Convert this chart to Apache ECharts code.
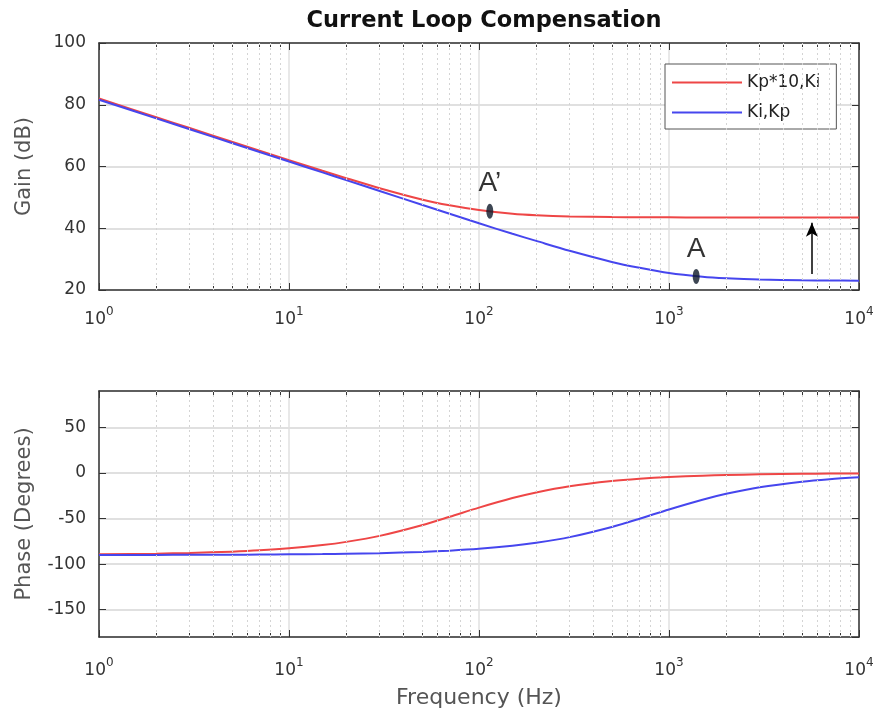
<!DOCTYPE html>
<html><head><meta charset="utf-8">
<script src="https://cdn.jsdelivr.net/npm/echarts@6/dist/echarts.min.js"></script>
<style>html,body{margin:0;padding:0;background:#fff}#c{width:878px;height:722px}</style>
</head><body><div id="c"></div>
<script>
// ---- data ----
const freq = [1,2,3,5,7,10,15,20,30,50,70,100,150,200,300,500,700,1000,1500,2000,3000,5000,7000,10000];
const gainRed  = [82.0,75.99,72.46,68.03,65.13,62.06,58.62,56.22,52.98,49.33,47.43,45.89,44.69,44.21,43.83,43.62,43.56,43.53,43.51,43.5,43.5,43.5,43.5,43.5];
const gainBlue = [81.6,75.6,72.05,67.6,64.7,61.6,58.1,55.6,52.05,47.6,44.7,41.6,38.2,35.9,32.7,29.1,27.2,25.5,24.3,23.8,23.37,23.14,23.07,23.03];
const phaseRed  = [-89.3,-88.5,-87.8,-86.3,-84.9,-82.7,-79.1,-75.6,-69.0,-57.3,-48.1,-38.0,-27.5,-21.3,-14.6,-8.9,-6.4,-4.5,-3.0,-2.2,-1.5,-0.9,-0.6,-0.45];
const phaseBlue = [-89.9,-89.9,-89.8,-89.7,-89.5,-89.3,-89.0,-88.6,-88.0,-86.6,-85.2,-83.2,-79.9,-76.6,-70.4,-59.2,-50.2,-40.0,-29.3,-22.8,-15.6,-9.5,-6.8,-4.8];
const seriesNames = ['Kp*10,Ki', 'Ki,Kp'];
const markerFreq = [114, 1390];
const markerGain = [45.5, 24.4];
const markerLabels = ['A\u2019', 'A'];
const arrowFreq = 5650;
const arrowFrom = 25.2;
const arrowTo = 41.8;
const minorFreq = [2,3,4,5,6,7,8,9,20,30,40,50,60,70,80,90,200,300,400,500,600,700,800,900,2000,3000,4000,5000,6000,7000,8000,9000];
const gainRange = [20, 100];
const phaseRange = [-180, 90];
const titleText = 'Current Loop Compensation';
const xName = 'Frequency (Hz)';
const yNames = ['Gain (dB)', 'Phase (Degrees)'];

// ---- styles ----
const FONT = '"DejaVu Sans", "Liberation Sans", sans-serif';
const RED = '#ee4646';
const BLUE = '#4646ee';
const AXC = '#333';
const GRIDC = '#e0e0e0';
const MINORC = '#d4d4d4';

const pairs = (ys) => freq.map((f, i) => [f, ys[i]]);

function xAxes(gi, margin, withName) {
  const bottom = {
    type: 'log', logBase: 10, gridIndex: gi, min: 1, max: 10000, position: 'bottom',
    axisLine: {show: true, onZero: false, lineStyle: {color: AXC, width: 1.5}},
    axisTick: {show: true, inside: true, length: 7, lineStyle: {color: AXC}},
    splitLine: {show: true, lineStyle: {color: GRIDC, width: 1.5}},
    axisLabel: {
      margin: margin, color: AXC,
      formatter: v => '{b|10}{s|' + Math.round(Math.log10(v)) + '}',
      rich: {
        b: {fontSize: 17, fontFamily: FONT, color: AXC},
        s: {fontSize: 12, fontFamily: FONT, color: AXC, padding: [0, 0, 16, 0]}
      }
    }
  };
  if (withName) {
    bottom.name = xName; bottom.nameLocation = 'middle'; bottom.nameGap = 50;
    bottom.nameMoveOverlap = false;
    bottom.nameTextStyle = {fontSize: 22, fontFamily: FONT, color: '#555'};
  }
  const top = {
    type: 'log', logBase: 10, gridIndex: gi, min: 1, max: 10000, position: 'top',
    axisLine: {show: true, onZero: false, lineStyle: {color: AXC, width: 1.5}},
    axisTick: {show: true, inside: true, length: 7, lineStyle: {color: AXC}},
    axisLabel: {show: false}, splitLine: {show: false}
  };
  const minor = (pos) => ({
    type: 'log', logBase: 10, gridIndex: gi, min: 1, max: 10000, position: pos,
    axisLine: {show: false, onZero: false},
    axisTick: {show: true, inside: true, length: 4, customValues: minorFreq, lineStyle: {color: AXC, width: 1}},
    axisLabel: {show: false}, splitLine: {show: false}
  });
  return [bottom, top, minor('bottom'), minor('top')];
}
function yAxes(gi, range, name, extra) {
  const left = Object.assign({
    type: 'value', gridIndex: gi, min: range[0], max: range[1], position: 'left',
    name: name, nameLocation: 'middle', nameGap: 64,
    nameTextStyle: {fontSize: 21, fontFamily: FONT, color: '#555'},
    axisLine: {show: true, onZero: false, lineStyle: {color: AXC, width: 1.5}},
    axisTick: {show: true, inside: true, length: 7, lineStyle: {color: AXC}},
    splitLine: {show: true, lineStyle: {color: GRIDC, width: 2}},
    axisLabel: {fontSize: 17, fontFamily: FONT, color: AXC, margin: 13}
  }, extra);
  const right = Object.assign({
    type: 'value', gridIndex: gi, min: range[0], max: range[1], position: 'right',
    axisLine: {show: true, onZero: false, lineStyle: {color: AXC, width: 1.5}},
    axisTick: {show: true, inside: true, length: 7, lineStyle: {color: AXC}},
    splitLine: {show: false}, axisLabel: {show: false}
  }, extra);
  return [left, right];
}
function minorGrid() {
  return {
    silent: true, symbol: ['none', 'none'], label: {show: false}, animation: false,
    lineStyle: {color: MINORC, type: [2, 3], width: 1},
    data: minorFreq.map(v => ({xAxis: v}))
  };
}

const xs = [...xAxes(0, 16, false), ...xAxes(1, 20, true)];
const ys = [...yAxes(0, gainRange, yNames[0], {interval: 20}),
            ...yAxes(1, phaseRange, yNames[1], {splitNumber: 5})];
ys[2].axisLabel.showMinLabel = false; ys[2].axisLabel.showMaxLabel = false;

const lineCommon = {type: 'line', symbol: 'none', smooth: 0.3, z: 3, animation: false};

const option = {
  animation: false,
  backgroundColor: '#fff',
  title: {text: titleText, left: 479, textAlign: 'center', top: 5,
    textStyle: {fontSize: 22.5, fontWeight: 'bold', fontFamily: FONT, color: '#111'}},
  legend: {
    data: seriesNames, orient: 'vertical', left: 665, top: 64,
    padding: [10, 16, 8, 7], itemGap: 13, itemWidth: 70, itemHeight: 2, icon: 'rect',
    backgroundColor: '#fff', borderColor: '#555', borderWidth: 1, borderRadius: 0,
    textStyle: {fontSize: 17, fontFamily: FONT, color: '#222'}
  },
  grid: [
    {left: 99, right: 19, top: 43, height: 247, show: false},
    {left: 99, right: 19, top: 391, height: 246, show: false}
  ],
  xAxis: xs,
  yAxis: ys,
  series: [
    Object.assign({}, lineCommon, {name: seriesNames[0], xAxisIndex: 0, yAxisIndex: 0, data: pairs(gainRed),
      itemStyle: {color: RED}, lineStyle: {width: 2, color: RED}, markLine: minorGrid()}),
    Object.assign({}, lineCommon, {name: seriesNames[1], xAxisIndex: 0, yAxisIndex: 0, data: pairs(gainBlue),
      itemStyle: {color: BLUE}, lineStyle: {width: 2, color: BLUE},
      markLine: {silent: true, symbol: ['none', 'arrow'], symbolSize: [9, 14], label: {show: false},
        animation: false, lineStyle: {color: '#000', type: 'solid', width: 1.5},
        data: [[{coord: [arrowFreq, arrowFrom]}, {coord: [arrowFreq, arrowTo]}]]}}),
    Object.assign({}, lineCommon, {name: seriesNames[0], xAxisIndex: 4, yAxisIndex: 2, data: pairs(phaseRed),
      itemStyle: {color: RED}, lineStyle: {width: 2, color: RED}, markLine: minorGrid()}),
    Object.assign({}, lineCommon, {name: seriesNames[1], xAxisIndex: 4, yAxisIndex: 2, data: pairs(phaseBlue),
      itemStyle: {color: BLUE}, lineStyle: {width: 2, color: BLUE}}),
    {type: 'scatter', xAxisIndex: 0, yAxisIndex: 0, z: 5, animation: false,
      data: markerFreq.map((f, i) => [f, markerGain[i]]),
      symbol: 'circle', symbolSize: [7, 15], itemStyle: {color: '#0c1828'},
      label: {show: true, position: 'top', distance: 6, fontSize: 28,
        fontFamily: '"Liberation Sans", Arial, sans-serif', color: '#000',
        formatter: p => markerLabels[p.dataIndex]}}
  ]
};
const chart = echarts.init(document.getElementById('c'));
chart.setOption(option);
</script>
</body></html>
